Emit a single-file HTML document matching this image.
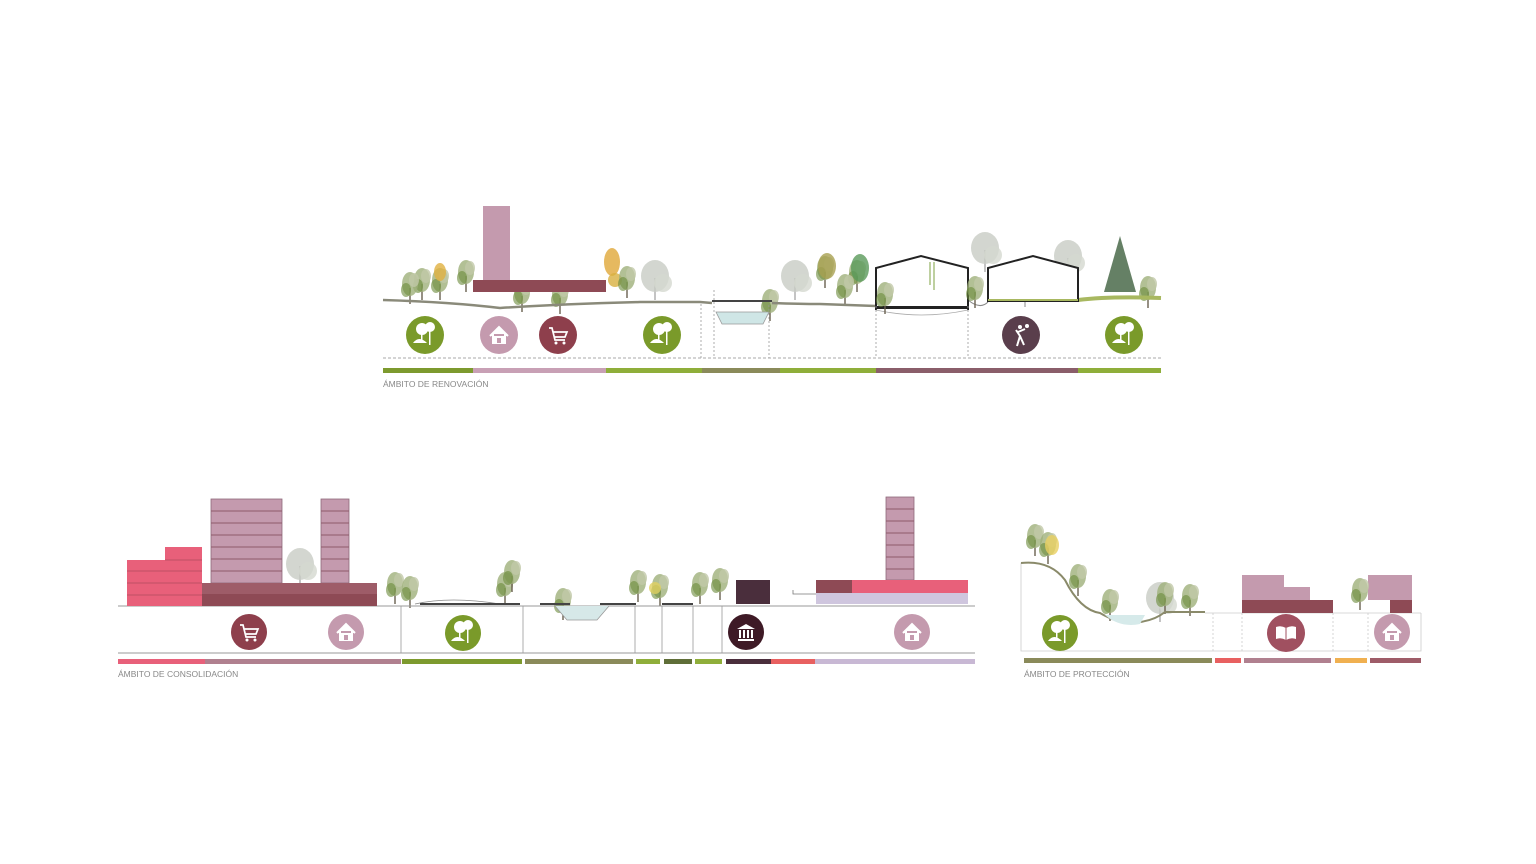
<!DOCTYPE html>
<html><head><meta charset="utf-8"><style>
html,body{margin:0;padding:0;background:#fff;}
svg{display:block}
text{font-family:"Liberation Sans",sans-serif;font-size:8.5px;fill:#888;}
</style></head><body>
<svg width="1536" height="864" viewBox="0 0 1536 864" xmlns="http://www.w3.org/2000/svg">
<defs>
<g id="park"><path d="M-12 8 Q-6 0 2 8Z" fill="#fff"/><circle cx="-3" cy="-6" r="6" fill="#fff"/><circle cx="5" cy="-8" r="5" fill="#fff"/><rect x="4" y="-4" width="1.5" height="14" fill="#fff"/><rect x="-4" y="-2" width="1.5" height="8" fill="#fff"/></g>
<g id="house"><path d="M-9 1 L0 -8 L9 1 M-6 -1 V8 H6 V-1" fill="#fff" stroke="#fff" stroke-width="2"/><rect x="-2" y="3" width="4" height="5" fill="#c49aae"/></g>
<g id="cart"><path d="M-9 -7 H-6 L-3 5 H7 M-5 -3 H9 L7 2 H-4" fill="none" stroke="#fff" stroke-width="1.7"/><circle cx="-2" cy="8" r="1.5" fill="#fff"/><circle cx="6" cy="8" r="1.5" fill="#fff"/></g>
<g id="museum"><path d="M-9 -3 L0 -8 L9 -3Z M-8 7 H8 V9 H-8Z" fill="#fff"/><rect x="-7" y="-2" width="2" height="8" fill="#fff"/><rect x="-3" y="-2" width="2" height="8" fill="#fff"/><rect x="1" y="-2" width="2" height="8" fill="#fff"/><rect x="5" y="-2" width="2" height="8" fill="#fff"/></g>
<g id="tree1"><rect x="-0.7" y="0" width="1.4" height="16" fill="#6a6050"/><ellipse cx="0" cy="-4" rx="8" ry="12" fill="#9fb07a" opacity=".8"/><ellipse cx="-4" cy="2" rx="5" ry="7" fill="#6a8a3a" opacity=".6"/><ellipse cx="4" cy="-8" rx="5" ry="7" fill="#c0c8a8" opacity=".8"/></g>
<g id="treeg"><rect x="-0.7" y="0" width="1.4" height="22" fill="#aaa"/><ellipse cx="0" cy="-2" rx="14" ry="16" fill="#c8ccc4" opacity=".8"/><circle cx="8" cy="5" r="9" fill="#d4d8d0" opacity=".8"/></g>
</defs>

<!-- ========== TOP: RENOVACIÓN ========== -->
<g>
<use href="#treeg" x="655" y="278"/><use href="#treeg" x="985" y="250"/><use href="#treeg" x="1068" y="258"/><use href="#treeg" x="795" y="278"/><use href="#treeg" x="1025" y="285"/>
<use href="#tree1" x="422" y="284"/><use href="#tree1" x="440" y="284"/><ellipse cx="440" cy="272" rx="6" ry="9" fill="#e0b040" opacity=".8"/>
<use href="#tree1" x="466" y="276"/><ellipse cx="612" cy="262" rx="8" ry="14" fill="#e0a838" opacity=".8"/><circle cx="615" cy="280" r="7" fill="#d8b040" opacity=".8"/>
<use href="#tree1" x="627" y="282"/><use href="#tree1" x="825" y="272"/><ellipse cx="827" cy="266" rx="9" ry="13" fill="#a8a050" opacity=".8"/>
<use href="#tree1" x="857" y="276"/><ellipse cx="860" cy="268" rx="9" ry="14" fill="#5a9a5a" opacity=".8"/><use href="#tree1" x="845" y="290"/>
<path d="M1120 236 L1104 292 H1136Z" fill="#4a6a4a" opacity=".85"/>
<use href="#tree1" x="1148" y="292"/><use href="#tree1" x="410" y="288"/><use href="#tree1" x="522" y="296"/><use href="#tree1" x="770" y="305"/><use href="#tree1" x="560" y="298"/>
<path d="M383 300 Q450 302 500 308 Q560 304 640 302 L700 302 L712 303" fill="none" stroke="#8a8a7a" stroke-width="2.5"/>
<rect x="712" y="300" width="60" height="2" fill="#444"/>
<path d="M772 303 Q800 304 820 304 L876 306" fill="none" stroke="#8a8a7a" stroke-width="2.5"/>
<path d="M1078 300 Q1110 296 1161 298" fill="none" stroke="#a8b860" stroke-width="4"/>
<path d="M968 300 Q980 310 988 302" fill="none" stroke="#888" stroke-width="1"/>
<rect x="483" y="206" width="27" height="74" fill="#c49aae"/>
<rect x="473" y="280" width="133" height="12" fill="#8e4a55"/>
<path d="M716 312 L722 324 H763 L769 312Z" fill="#cfe6e6" stroke="#999" stroke-width="0.8"/>
<path d="M876 310 V268 L921 256 L968 268 V310" fill="#fff" stroke="#222" stroke-width="2"/>
<rect x="876" y="306" width="92" height="3" fill="#222"/>
<path d="M988 302 V268 L1033 256 L1078 268 V302" fill="#fff" stroke="#222" stroke-width="2"/>
<rect x="988" y="299" width="90" height="3" fill="#222"/>
<path d="M988 300 H1078" stroke="#a8b860" stroke-width="2"/>
<path d="M876 310 Q921 320 968 310" fill="none" stroke="#aaa" stroke-width="0.8"/>
<path d="M930 262 V285 M934 262 V290" stroke="#a8c080" stroke-width="1.5"/>
<use href="#tree1" x="885" y="298"/><use href="#tree1" x="975" y="292"/>
<g stroke="#999" stroke-width="0.8" stroke-dasharray="2,2">
<line x1="701" y1="304" x2="701" y2="358"/><line x1="714" y1="290" x2="714" y2="358"/><line x1="769" y1="305" x2="769" y2="358"/><line x1="876" y1="306" x2="876" y2="358"/><line x1="968" y1="306" x2="968" y2="358"/>
</g>
<line x1="383" y1="358" x2="1161" y2="358" stroke="#aaa" stroke-width="1" stroke-dasharray="3,2"/>
<circle cx="425" cy="335" r="19" fill="#7a9a2a"/><use href="#park" x="425" y="335"/>
<circle cx="499" cy="335" r="19" fill="#c49aae"/><use href="#house" x="499" y="335"/>
<circle cx="558" cy="335" r="19" fill="#8e3f4c"/><use href="#cart" x="558" y="335"/>
<circle cx="662" cy="335" r="19" fill="#7a9a2a"/><use href="#park" x="662" y="335"/>
<circle cx="1021" cy="335" r="19" fill="#5a3e4c"/><path d="M1017 346 L1020 336 L1016 330 M1020 336 L1024 345 M1018 332 L1025 329" stroke="#fff" stroke-width="2" fill="none"/><circle cx="1020" cy="327" r="2" fill="#fff"/><circle cx="1027" cy="326" r="2" fill="#fff"/>
<circle cx="1124" cy="335" r="19" fill="#7a9a2a"/><use href="#park" x="1124" y="335"/>
<rect x="383" y="368" width="90" height="5" fill="#7d9a2e"/>
<rect x="473" y="368" width="133" height="5" fill="#c8a0b5"/>
<rect x="606" y="368" width="96" height="5" fill="#8fae3a"/>
<rect x="702" y="368" width="78" height="5" fill="#8a8a5a"/>
<rect x="780" y="368" width="96" height="5" fill="#8fae3a"/>
<rect x="876" y="368" width="202" height="5" fill="#8a5e6a"/>
<rect x="1078" y="368" width="83" height="5" fill="#8fae3a"/>
<text x="383" y="387">ÁMBITO DE RENOVACIÓN</text>
</g>

<!-- ========== BOTTOM LEFT ========== -->
<g>
<use href="#treeg" x="300" y="566"/>
<use href="#tree1" x="395" y="588"/><use href="#tree1" x="410" y="592"/><use href="#tree1" x="505" y="588"/><use href="#tree1" x="512" y="576"/>
<use href="#tree1" x="638" y="586"/><use href="#tree1" x="660" y="590"/><circle cx="655" cy="588" r="6" fill="#e0d060" opacity=".8"/>
<use href="#tree1" x="700" y="588"/><use href="#tree1" x="720" y="584"/><use href="#tree1" x="563" y="604"/>
<line x1="118" y1="606" x2="975" y2="606" stroke="#999" stroke-width="1"/>
<path d="M415 604 Q450 596 500 604" fill="none" stroke="#888" stroke-width="0.8"/>
<rect x="420" y="603" width="100" height="2" fill="#444"/><rect x="540" y="603" width="30" height="2" fill="#444"/><rect x="600" y="603" width="36" height="2" fill="#444"/><rect x="662" y="603" width="31" height="2" fill="#444"/>
<rect x="127" y="560" width="75" height="46" fill="#e8607a"/>
<rect x="165" y="547" width="37" height="13" fill="#e8607a"/>
<g stroke="#b04a5e" stroke-width="0.8"><line x1="127" y1="571" x2="202" y2="571"/><line x1="127" y1="583" x2="202" y2="583"/><line x1="127" y1="595" x2="202" y2="595"/><line x1="165" y1="560" x2="202" y2="560"/></g>
<rect x="211" y="499" width="71" height="84" fill="#c49aae" stroke="#8e6a7a" stroke-width="0.8"/>
<rect x="321" y="499" width="28" height="84" fill="#c49aae" stroke="#8e6a7a" stroke-width="0.8"/>
<g stroke="#8e5a6a" stroke-width="1"><line x1="211" y1="511" x2="282" y2="511"/><line x1="211" y1="523" x2="282" y2="523"/><line x1="211" y1="535" x2="282" y2="535"/><line x1="211" y1="547" x2="282" y2="547"/><line x1="211" y1="559" x2="282" y2="559"/><line x1="211" y1="571" x2="282" y2="571"/>
<line x1="321" y1="511" x2="349" y2="511"/><line x1="321" y1="523" x2="349" y2="523"/><line x1="321" y1="535" x2="349" y2="535"/><line x1="321" y1="547" x2="349" y2="547"/><line x1="321" y1="559" x2="349" y2="559"/><line x1="321" y1="571" x2="349" y2="571"/></g>
<rect x="202" y="583" width="175" height="11" fill="#9e5c68"/><rect x="202" y="594" width="175" height="12" fill="#8e4a55"/>
<rect x="736" y="580" width="34" height="24" fill="#4a2e3c"/>
<rect x="886" y="497" width="28" height="83" fill="#c49aae" stroke="#8e6a7a" stroke-width="0.8"/>
<g stroke="#8e5a6a" stroke-width="1"><line x1="886" y1="509" x2="914" y2="509"/><line x1="886" y1="521" x2="914" y2="521"/><line x1="886" y1="533" x2="914" y2="533"/><line x1="886" y1="545" x2="914" y2="545"/><line x1="886" y1="557" x2="914" y2="557"/><line x1="886" y1="569" x2="914" y2="569"/></g>
<rect x="816" y="580" width="36" height="13" fill="#8e4a55"/>
<rect x="852" y="580" width="116" height="13" fill="#e8607a"/>
<rect x="816" y="593" width="152" height="11" fill="#cfc6de"/>
<path d="M793 590 V594 H816" fill="none" stroke="#777" stroke-width="0.8"/>
<path d="M555 606 L567 620 H597 L609 606" fill="#d6e8e8" stroke="#999" stroke-width="0.8"/>
<g stroke="#999" stroke-width="0.8"><line x1="401" y1="606" x2="401" y2="653"/><line x1="523" y1="606" x2="523" y2="653"/><line x1="635" y1="606" x2="635" y2="653"/><line x1="662" y1="606" x2="662" y2="653"/><line x1="693" y1="606" x2="693" y2="653"/><line x1="722" y1="606" x2="722" y2="653"/></g>
<line x1="118" y1="653" x2="975" y2="653" stroke="#999" stroke-width="1"/>
<circle cx="249" cy="632" r="18" fill="#8e3f4c"/><use href="#cart" x="249" y="632"/>
<circle cx="346" cy="632" r="18" fill="#c49aae"/><use href="#house" x="346" y="632"/>
<circle cx="463" cy="633" r="18" fill="#7a9a2a"/><use href="#park" x="463" y="633"/>
<circle cx="746" cy="632" r="18" fill="#3e1a26"/><use href="#museum" x="746" y="632"/>
<circle cx="912" cy="632" r="18" fill="#c49aae"/><use href="#house" x="912" y="632"/>
<rect x="118" y="659" width="87" height="5" fill="#e8607a"/>
<rect x="205" y="659" width="196" height="5" fill="#b0808f"/>
<rect x="402" y="659" width="120" height="5" fill="#7d9a2e"/>
<rect x="525" y="659" width="108" height="5" fill="#8a8a5a"/>
<rect x="636" y="659" width="24" height="5" fill="#8fae3a"/>
<rect x="664" y="659" width="28" height="5" fill="#5f6e38"/>
<rect x="695" y="659" width="27" height="5" fill="#8fae3a"/>
<rect x="726" y="659" width="45" height="5" fill="#4a2e3c"/>
<rect x="771" y="659" width="44" height="5" fill="#e86060"/>
<rect x="815" y="659" width="160" height="5" fill="#c8b8d4"/>
<text x="118" y="677">ÁMBITO DE CONSOLIDACIÓN</text>
</g>

<!-- ========== BOTTOM RIGHT ========== -->
<g>
<path d="M1021 563 V651 H1421 V613" fill="none" stroke="#ccc" stroke-width="0.8"/>
<use href="#tree1" x="1035" y="540"/><use href="#tree1" x="1048" y="548"/><ellipse cx="1052" cy="545" rx="7" ry="10" fill="#e8d060" opacity=".8"/>
<use href="#tree1" x="1078" y="580"/><use href="#tree1" x="1110" y="605"/><use href="#treeg" x="1160" y="600"/><use href="#tree1" x="1165" y="598"/><use href="#tree1" x="1190" y="600"/>
<path d="M1021 563 Q1050 560 1065 580 Q1080 610 1100 613 Q1120 625 1140 622 Q1155 620 1165 612 H1205" fill="none" stroke="#8a8a6a" stroke-width="2"/>
<path d="M1105 615 Q1120 628 1140 624 L1145 615" fill="#d6eaea"/>
<line x1="1205" y1="613" x2="1421" y2="613" stroke="#ccc" stroke-width="0.8"/>
<rect x="1242" y="575" width="42" height="25" fill="#c49aae"/><rect x="1284" y="587" width="26" height="13" fill="#c49aae"/>
<rect x="1242" y="600" width="91" height="13" fill="#8e4a55"/>
<rect x="1368" y="575" width="44" height="25" fill="#c49aae"/><rect x="1390" y="600" width="22" height="13" fill="#8e4a55"/>
<use href="#tree1" x="1360" y="594"/>
<g stroke="#ccc" stroke-width="0.8" stroke-dasharray="2,2"><line x1="1213" y1="613" x2="1213" y2="651"/><line x1="1242" y1="613" x2="1242" y2="651"/><line x1="1333" y1="613" x2="1333" y2="651"/><line x1="1368" y1="613" x2="1368" y2="651"/></g>
<circle cx="1060" cy="633" r="18" fill="#7a9a2a"/><use href="#park" x="1060" y="633"/>
<circle cx="1286" cy="633" r="19" fill="#a05060"/><path d="M1276 627 Q1281 625 1286 628 Q1291 625 1296 627 V639 Q1291 637 1286 640 Q1281 637 1276 639Z" fill="#fff"/><line x1="1286" y1="628" x2="1286" y2="640" stroke="#a05060"/>
<circle cx="1392" cy="632" r="18" fill="#c49aae"/><use href="#house" x="1392" y="632"/>
<rect x="1024" y="658" width="188" height="5" fill="#8a8a5a"/>
<rect x="1215" y="658" width="26" height="5" fill="#e86060"/>
<rect x="1244" y="658" width="87" height="5" fill="#b0808f"/>
<rect x="1335" y="658" width="32" height="5" fill="#f0b050"/>
<rect x="1370" y="658" width="51" height="5" fill="#9e5c68"/>
<text x="1024" y="677">ÁMBITO DE PROTECCIÓN</text>
</g>
</svg>
</body></html>
